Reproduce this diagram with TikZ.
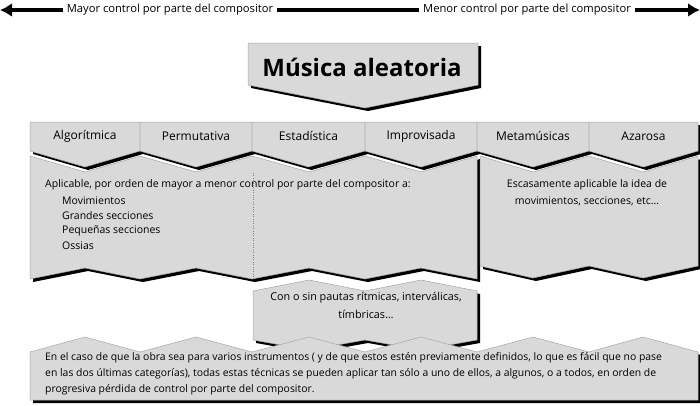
\documentclass[tikz,border=0pt]{standalone}
\usepackage{fontspec}
\setmainfont{Open Sans}
\usetikzlibrary{shadows,arrows.meta}
\definecolor{boxgray}{HTML}{D9D9D9}
\tikzset{
  box/.style={fill=boxgray,draw=gray!70,line width=0.5pt,
    drop shadow={shadow xshift=3pt,shadow yshift=-3pt,fill=black,opacity=1}},
  lab/.style={font=\fontsize{12}{14}\selectfont,inner sep=0pt},
  txt/.style={font=\fontsize{10.5}{15}\selectfont,inner sep=0pt,anchor=west},
  bar/.style={line width=4pt}
}
\begin{document}
\begin{tikzpicture}[x=1pt,y=-1pt]
\useasboundingbox (0,0) rectangle (700,405);
% top arrow
\node[lab,font=\fontsize{11.2}{13}\selectfont] (mayor) at (170,10) {Mayor control por parte del compositor};
\node[lab,font=\fontsize{11.2}{13}\selectfont] (menor) at (527,10) {Menor control por parte del compositor};
\coordinate (le) at (0,10);
\coordinate (re) at (700,10);
\draw[bar,-{Latex[length=12pt,width=14pt]}] ([xshift=-4pt]mayor.west) -- (le);
\draw[bar] ([xshift=4pt]mayor.east) -- ([xshift=-4pt]menor.west);
\draw[bar,-{Latex[length=12pt,width=14pt]}] ([xshift=4pt]menor.east) -- (re);
% title
\path[box] (248,43) -- (478,43) -- (478,85) -- (365,108) -- (248,85) -- cycle;
\node[font=\fontsize{24}{28}\bfseries\selectfont,inner sep=0pt] (title) at (362,67) {Música aleatoria};
% tabs
\foreach \xl/\xr/\t/\n in {30/140/Algorítmica/t1,140/252/Permutativa/t2,252/365/Estadística/t3,365/477/Improvisada/t4,477/589/Metamúsicas/t5,589/698/Azarosa/t6}{
  \path[box] (\xl,122) -- (\xr,122) -- (\xr,151) -- ({(\xl+\xr)/2},167) -- (\xl,151) -- cycle;
  \node[lab] (\n) at ({(\xl+\xr)/2},136) {\t};
}
% left big box
\path[box] (30,156) -- (85,172) -- (140,156) -- (196,172) -- (252,156) -- (309,172) -- (365,156) -- (421,172) -- (477,156)
  -- (477,279) -- (421,268) -- (365,279) -- (309,268) -- (252,279) -- (196,268) -- (140,279) -- (85,268) -- (30,279) -- cycle;
\draw[gray,dotted] (253,173) -- (253,277);
% right big box
\path[box] (480,156) -- (533,172) -- (589,156) -- (643,172) -- (698,156)
  -- (698,266) -- (643,278) -- (589,266) -- (533,278) -- (480,266) -- cycle;
% con o sin
\path[box] (253,291) -- (309,280) -- (365,291) -- (421,280) -- (477,291)
  -- (477,340) -- (421,350) -- (365,340) -- (309,350) -- (253,340) -- cycle;
% bottom box
\path[box] (30,352) -- (85,337) -- (140,352) -- (196,337) -- (252,352) -- (309,337) -- (365,352) -- (421,337) -- (477,352) -- (533,337) -- (589,352) -- (643,337) -- (698,352)
  -- (698,400) -- (30,400) -- cycle;
% texts
\node[txt] (apl) at (45,185) {Aplicable, por orden de mayor a menor control por parte del compositor a:};
\node[txt] (m1) at (62,201) {Movimientos};
\node[txt] (m2) at (62,216) {Grandes secciones};
\node[txt] (m3) at (62,231) {Pequeñas secciones};
\node[txt] (m4) at (62,246) {Ossias};
\node[txt,anchor=center] (esc1) at (587,185) {Escasamente aplicable la idea de};
\node[txt,anchor=center] (esc2) at (587,201) {movimientos, secciones, etc…};
\node[txt,anchor=center,font=\fontsize{10.8}{15}\selectfont] (con1) at (366,298) {Con o sin pautas rítmicas, interválicas,};
\node[txt,anchor=center,font=\fontsize{10.8}{15}\selectfont] (con2) at (366,314) {tímbricas…};
\node[txt,font=\fontsize{10.4}{15}\selectfont] (b1) at (45,358) {En el caso de que la obra sea para varios instrumentos ( y de que estos estén previamente definidos, lo que es fácil que no pase};
\node[txt,font=\fontsize{10.4}{15}\selectfont] (b2) at (45,374) {en las dos últimas categorías), todas estas técnicas se pueden aplicar tan sólo a uno de ellos, a algunos, o a todos, en orden de};
\node[txt,font=\fontsize{10.4}{15}\selectfont] (b3) at (45,390) {progresiva pérdida de control por parte del compositor.};
\end{tikzpicture}
\end{document}
